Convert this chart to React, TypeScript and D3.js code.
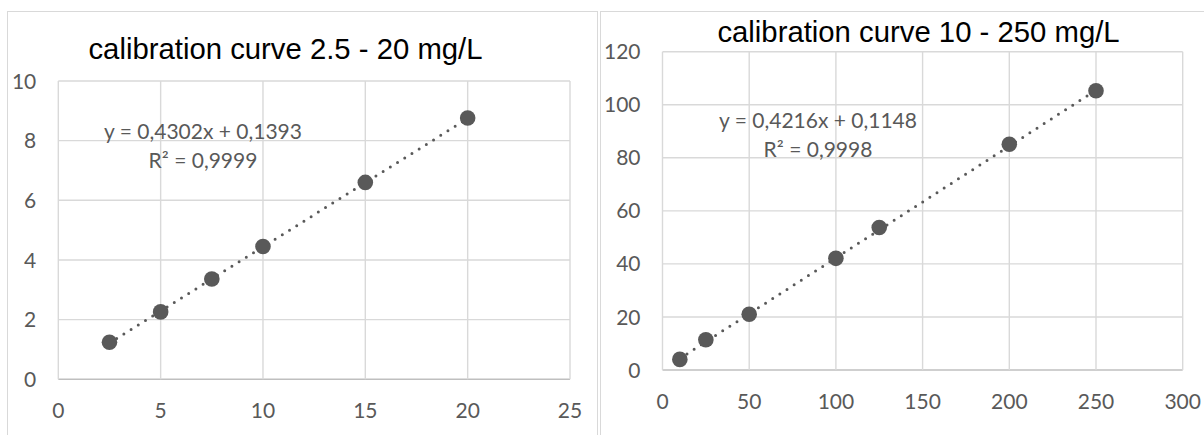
import React from 'react';
import * as d3 from 'd3';

const W = 1204;
const H = 435;

// left panel: 2.5 - 20 mg/L
const LOW_X = [2.5, 5, 7.5, 10, 15, 20];
const LOW_Y = [1.24, 2.26, 3.36, 4.45, 6.6, 8.76];
const LOW_FIT = [0.4302, 0.1393];
const LOW_EQ = ['y = 0,4302x + 0,1393', 'R² = 0,9999'];
const LOW_XTICKS = [0, 5, 10, 15, 20, 25];
const LOW_YTICKS = [0, 2, 4, 6, 8, 10];

// right panel: 10 - 250 mg/L
const HIGH_X = [10, 25, 50, 100, 125, 200, 250];
const HIGH_Y = [4.0, 11.4, 21.0, 42.1, 53.7, 85.1, 105.3];
const HIGH_FIT = [0.4216, 0.1148];
const HIGH_EQ = ['y = 0,4216x + 0,1148', 'R² = 0,9998'];
const HIGH_XTICKS = [0, 50, 100, 150, 200, 250, 300];
const HIGH_YTICKS = [0, 20, 40, 60, 80, 100, 120];

const GRID = '#d9d9d9';
const INK = '#595959';
const TICK_FONT = 'Lato, "Open Sans", sans-serif';
const TITLE_FONT = '"Liberation Sans", Arial, sans-serif';

type PanelProps = {
  title: string;
  titleX: number;
  titleY: number;
  frame: { x: number; y: number; w: number; h: number };
  xRange: [number, number];
  yRange: [number, number];
  xTicks: number[];
  yTicks: number[];
  xs: number[];
  ys: number[];
  fit: number[];
  eq: string[];
  eqX: number;
  eqY: number;
};

function Panel(p: PanelProps) {
  const x = d3
    .scaleLinear()
    .domain(d3.extent(p.xTicks) as [number, number])
    .range(p.xRange);
  const y = d3
    .scaleLinear()
    .domain(d3.extent(p.yTicks) as [number, number])
    .range(p.yRange);

  const pts = p.xs.map((v, i) => [v, p.ys[i]] as [number, number]);
  const [x0, x1] = d3.extent(p.xs) as [number, number];
  const trend = d3.line<number>()
    .x((v) => x(v))
    .y((v) => y(p.fit[0] * v + p.fit[1]))([x0, x1]) ?? '';

  const [left, right] = p.xRange;
  const [bottom, top] = p.yRange;

  return (
    <g>
      <rect
        x={p.frame.x + 0.5}
        y={p.frame.y + 0.5}
        width={p.frame.w}
        height={p.frame.h}
        fill="#fff"
        stroke={GRID}
        strokeWidth={1}
      />
      <text
        x={p.titleX}
        y={p.titleY}
        textAnchor="middle"
        fontFamily={TITLE_FONT}
        fontSize={29.3}
        fill="#000"
      >
        {p.title}
      </text>
      {p.yTicks.map((t) => (
        <line key={`gy-${t}`} x1={left} x2={right} y1={y(t)} y2={y(t)}
          stroke={t === 0 ? '#bfbfbf' : GRID} strokeWidth={1.4} />
      ))}
      {p.xTicks.map((t) => (
        <line key={`gx-${t}`} x1={x(t)} x2={x(t)} y1={top} y2={bottom}
          stroke={GRID} strokeWidth={1.4} />
      ))}
      {p.yTicks.map((t) => (
        <text key={`ty-${t}`} x={left - 22} y={y(t)} dy="0.36em" textAnchor="end"
          fontFamily={TICK_FONT} fontSize={21} fill={INK}>
          {t}
        </text>
      ))}
      {p.xTicks.map((t) => (
        <text key={`tx-${t}`} x={x(t)} y={bottom + 31} dy="0.36em" textAnchor="middle"
          fontFamily={TICK_FONT} fontSize={21} fill={INK}>
          {t}
        </text>
      ))}
      <path d={trend} fill="none" stroke={INK} strokeWidth={3}
        strokeLinecap="round" strokeDasharray="0 8.5" />
      {pts.map(([a, b], i) => (
        <circle key={`pt-${i}`} cx={x(a)} cy={y(b)} r={7.8} fill={INK} />
      ))}
      {p.eq.map((s, i) => (
        <text key={`eq-${i}`} x={p.eqX} y={p.eqY + i * 29} textAnchor="middle"
          fontFamily={TICK_FONT} fontSize={21} fill={INK}>
          {s}
        </text>
      ))}
    </g>
  );
}

export default function App() {
  return (
    <svg
      width={W}
      height={H}
      viewBox={`0 0 ${W} ${H}`}
      style={{ position: 'absolute', left: 0, top: 0, background: '#fff' }}
    >
      <rect width={W} height={H} fill="#fff" />
      <Panel
        title="calibration curve 2.5 - 20 mg/L"
        titleX={285.5}
        titleY={59.3}
        frame={{ x: 7, y: 11, w: 590, h: 440 }}
        xRange={[58.3, 570]}
        yRange={[379.3, 81]}
        xTicks={LOW_XTICKS}
        yTicks={LOW_YTICKS}
        xs={LOW_X}
        ys={LOW_Y}
        fit={LOW_FIT}
        eq={LOW_EQ}
        eqX={203}
        eqY={139.3}
      />
      <Panel
        title="calibration curve 10 - 250 mg/L"
        titleX={918.5}
        titleY={41.7}
        frame={{ x: 600, y: 11, w: 620, h: 440 }}
        xRange={[662.5, 1182.7]}
        yRange={[370, 51.7]}
        xTicks={HIGH_XTICKS}
        yTicks={HIGH_YTICKS}
        xs={HIGH_X}
        ys={HIGH_Y}
        fit={HIGH_FIT}
        eq={HIGH_EQ}
        eqX={818}
        eqY={128.3}
      />
    </svg>
  );
}
